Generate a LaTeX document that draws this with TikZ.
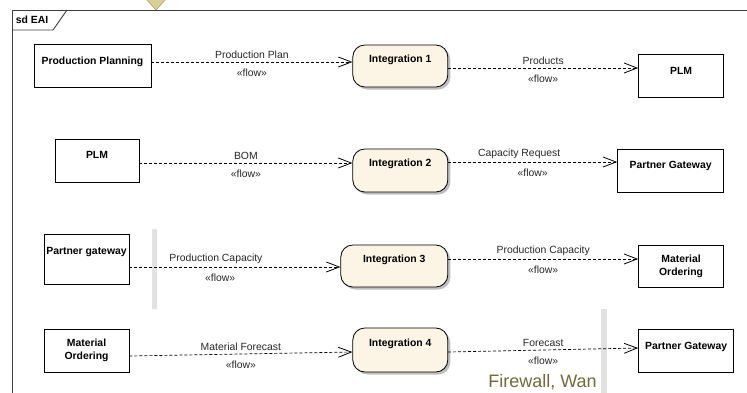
\documentclass[tikz,border=0pt]{standalone}
\usepackage{fontspec}
\setmainfont{Liberation Sans}
\usetikzlibrary{arrows.meta,positioning,shadows}
\definecolor{intfill}{RGB}{252,244,229}
\definecolor{khaki}{RGB}{214,209,152}
\definecolor{khakiline}{RGB}{170,165,110}
\definecolor{wallgray}{RGB}{226,226,226}
\definecolor{olive}{RGB}{112,106,60}

\begin{document}
\begin{tikzpicture}
                [
                    x=1pt, y=-1pt,
                    font=\fontsize{10.4}{12.5}\selectfont,
                    system/.style={rectangle, draw=black, line width=0.8pt, fill=white, minimum width=85pt, minimum height=43pt, inner xsep=1pt, text centered, align=center, font=\fontsize{10.4}{13}\selectfont\bfseries},
                    systemtop/.style={system, text depth=#1},
                    systemtop/.default=10pt,
                    integration/.style={rectangle, rounded corners=12pt, draw=black, line width=0.8pt, fill=intfill, minimum width=95pt, minimum height=42pt, text centered, text depth=15pt, font=\fontsize{10.4}{12.5}\selectfont\bfseries, drop shadow={shadow xshift=2.5pt, shadow yshift=-2.5pt, fill=black!25, opacity=1}},
                    flow/.style={draw=black, dash pattern=on 3pt off 2pt, line width=0.7pt, -{Straight Barb[length=13pt,width=10pt,line width=0.8pt]}},
                    flowname/.style={above, text=black!85},
                    stereo/.style={below=3pt, text=black!85},
                    frame/.style={draw=black!75, line width=0.9pt}
                ]
                \useasboundingbox (0,0) rectangle (747,392);

                % frame and tab
                \filldraw [fill=khaki, draw=khakiline, line width=0.6pt] (145,-2) -- (167,-2) -- (156,10) -- cycle;
                \draw [frame] (12,394) -- (12,10) -- (749,10);
                \draw [frame] (12,30) -- (53,30) -- (67,10);
                \node [font=\fontsize{10.4}{12.5}\selectfont\bfseries] (title) at (32,20) {sd EAI};

                % firewall walls
                \fill [wallgray] (152,229) rectangle (157,309);
                \fill [wallgray] (601,309) rectangle (607,393);

                \node [systemtop, minimum width=117pt] (plan) at (92.5,65.5) {Production Planning};
                \node [integration] (1stint) [right=201pt of plan, yshift=-0.5pt] {Integration 1};
                \node [systemtop] (1stplm) [right=190pt of 1stint, yshift=-9.5pt] {PLM};

                \node [systemtop=11pt, minimum width=84pt] (2ndplm) at (97,160.5) {PLM};
                \node [integration, minimum height=43pt] (2ndint) [right=213pt of 2ndplm, yshift=-10pt] {Integration 2};
                \node [systemtop=11pt, minimum width=106pt] (1stgate) [right=169pt of 2ndint] {Partner Gateway};

                \node [systemtop=16pt, minimum height=50pt] (2ndgate) at (86.5,259) {Partner gateway};
                \node [integration, minimum width=107pt] (3rdint) [right=211pt of 2ndgate, yshift=-7pt] {Integration 3};
                \node [system, minimum height=42pt] (1storder) [right=190pt of 3rdint] {Material\\Ordering};

                \node [system] (2ndorder) at (86.5,350.5) {Material\\Ordering};
                \node [integration, minimum height=44pt] (4thint) [right=223pt of 2ndorder, yshift=0.5pt] {Integration 4};
                \node [systemtop=9pt, minimum width=95pt] (3rdgate) [right=190pt of 4thint, yshift=-0.5pt] {Partner Gateway};

                \node [font=\fontsize{18}{20}\selectfont, text=olive, anchor=base, inner sep=0pt] (wall) at (542.5,387) {Firewall, Wan};

                \draw [flow] ([yshift=3.5pt]plan.east) -- node[flowname] {Production Plan} node[stereo] {«flow»} ([yshift=4pt]1stint.west);
                \draw [flow] ([yshift=-2pt]1stint.east) -- node[flowname] {Products} node[stereo] {«flow»} ([yshift=7.5pt]1stplm.west);

                \draw [flow] ([yshift=-2.5pt]2ndplm.east) -- node[flowname] {BOM} node[stereo] {«flow»} ([yshift=7.5pt]2ndint.west);
                \draw [flow] ([yshift=8.5pt]2ndint.east) -- node[flowname, pos=0.42] {Capacity Request} node[stereo] {«flow»} ([yshift=8.5pt]1stgate.west);

                \draw [flow] ([yshift=-8pt]2ndgate.east) -- node[flowname, pos=0.41] {Production Capacity} node[stereo, pos=0.43] {«flow»} ([yshift=-1pt]3rdint.west);
                \draw [flow] ([yshift=7pt]3rdint.east) -- node[flowname] {Production Capacity} node[stereo] {«flow»} ([yshift=7pt]1storder.west);

                \draw [flow] ([yshift=-5.5pt]2ndorder.east) -- node[flowname] {Material Forecast} node[stereo] {«flow»} ([yshift=-2pt]4thint.west);
                \draw [flow] ([yshift=-2pt]4thint.east) -- node[flowname] {Forecast} node[stereo] {«flow»} ([yshift=2.5pt]3rdgate.west);

            \end{tikzpicture}
\end{document}
